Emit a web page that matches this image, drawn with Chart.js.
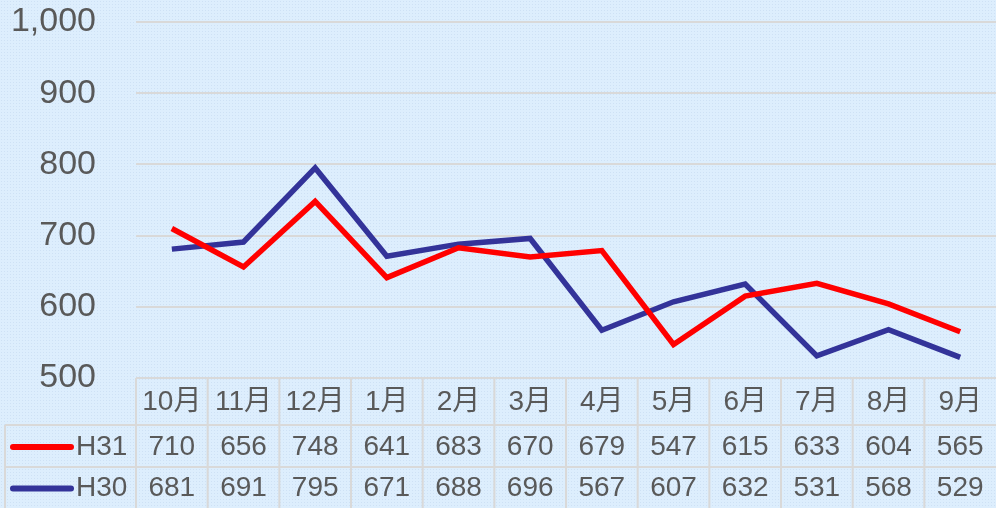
<!DOCTYPE html>
<html>
<head>
<meta charset="utf-8">
<script src="https://cdn.jsdelivr.net/npm/chart.js@4"></script>
<style>
  html, body { margin: 0; padding: 0; background: #ddeefd; }
  #wrap { width: 996px; height: 508px; position: relative;
    background-color: #ddeefd;
    background-image: radial-gradient(rgba(190,210,235,0.45) 0.6px, transparent 0.8px);
    background-size: 3px 3px; }
</style>
</head>
<body>
<div id="wrap"><canvas id="graph" width="996" height="508"></canvas></div>
<script>
var months = ['10月', '11月', '12月', '1月', '2月', '3月', '4月', '5月', '6月', '7月', '8月', '9月'];
var h31 = [710, 656, 748, 641, 683, 670, 679, 547, 615, 633, 604, 565];
var h30 = [681, 691, 795, 671, 688, 696, 567, 607, 632, 531, 568, 529];

var FONT = '"Liberation Sans", Arial, "Noto Sans CJK JP", sans-serif';
var TEXT = '#595959';
var GRID = '#d9d9d9';

// draws the excel style data table under the plot
var dataTable = {
  id: 'dataTable',
  afterDraw: function (chart) {
    var c = chart.ctx;
    var x = chart.scales.x;
    var area = chart.chartArea;
    var top = area.bottom;
    var rows = [top, 425, 467, 508];
    var step = (area.right - area.left) / months.length;

    c.save();
    c.strokeStyle = GRID;
    c.lineWidth = 2;
    c.beginPath();
    c.moveTo(area.left, rows[0]); c.lineTo(area.right, rows[0]);
    c.moveTo(5, rows[1]); c.lineTo(area.right, rows[1]);
    c.moveTo(5, rows[2]); c.lineTo(area.right, rows[2]);
    c.moveTo(5, rows[1]); c.lineTo(5, rows[3]);
    for (var i = 0; i < months.length; i++) {
      var lx = area.left + i * step;
      c.moveTo(lx, rows[0]); c.lineTo(lx, rows[3]);
    }
    c.stroke();

    c.fillStyle = TEXT;
    c.font = '28px ' + FONT;
    c.textAlign = 'center';
    c.textBaseline = 'middle';
    chart.data.labels.forEach(function (m, i) {
      var px = x.getPixelForValue(i);
      c.fillText(m, px, (rows[0] + rows[1]) / 2 + 1);
    });
    chart.data.datasets.forEach(function (ds, d) {
      var cy = (rows[d + 1] + rows[d + 2]) / 2 + 1;
      ds.data.forEach(function (v, i) {
        c.fillText(String(v), x.getPixelForValue(i), cy);
      });
      c.strokeStyle = ds.borderColor;
      c.lineWidth = 6;
      c.lineCap = 'round';
      c.beginPath();
      c.moveTo(13, cy); c.lineTo(71, cy);
      c.stroke();
      c.textAlign = 'left';
      c.fillText(ds.label, 76, cy);
      c.textAlign = 'center';
    });
    c.restore();
  }
};

new Chart(document.getElementById('graph'), {
  type: 'line',
  data: {
    labels: months,
    datasets: [
      { label: 'H31', data: h31, borderColor: '#ff0000', borderWidth: 5.5, pointRadius: 0, tension: 0 },
      { label: 'H30', data: h30, borderColor: '#333399', borderWidth: 5.5, pointRadius: 0, tension: 0 }
    ]
  },
  options: {
    responsive: false,
    animation: false,
    layout: { padding: { top: 22, bottom: 122, left: 0, right: 0 } },
    plugins: { legend: { display: false }, tooltip: { enabled: false } },
    scales: {
      x: {
        offset: true,
        grid: { display: false },
        border: { display: false },
        ticks: { display: false }
      },
      y: {
        min: 500,
        max: 1000,
        afterFit: function (s) { s.width = 136; s.paddingTop = 0; s.paddingBottom = 0; },
        border: { display: false },
        grid: { color: GRID, lineWidth: 2, drawTicks: false },
        ticks: {
          stepSize: 100,
          color: TEXT,
          padding: 40,
          font: { family: FONT, size: 34 },
          callback: function (v) { return v.toLocaleString('en-US'); }
        }
      }
    }
  },
  plugins: [dataTable]
});
</script>
</body>
</html>
